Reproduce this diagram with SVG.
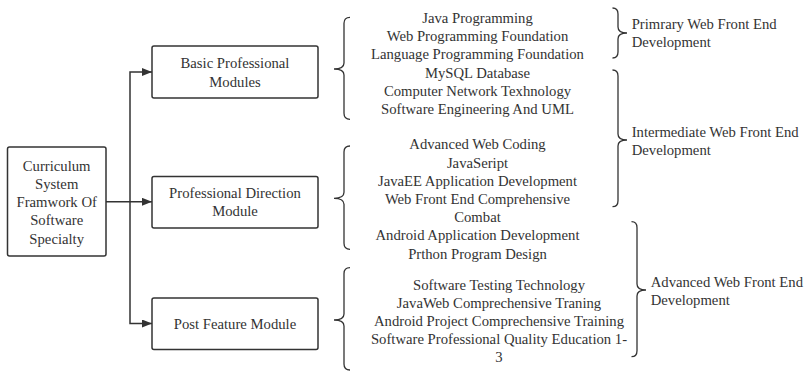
<svg xmlns="http://www.w3.org/2000/svg" width="807" height="371" viewBox="0 0 807 371">
<style>
.box{fill:#fff;stroke:#333;stroke-width:1.5}
.br{fill:none;stroke:#333;stroke-width:1.3}
.c{fill:none;stroke:#333;stroke-width:1.5}
text{font-family:'Liberation Serif','DejaVu Serif',serif;font-size:14.7px;fill:#333}
.t{text-anchor:middle}
.l{text-anchor:start}
</style>
<defs>
<marker id="arr" markerUnits="userSpaceOnUse" markerWidth="10" markerHeight="8" refX="10" refY="4" orient="auto">
<path d="M0,0 L10,4 L0,8 Z" fill="#333"/>
</marker>
</defs>
<rect width="807" height="371" fill="#fff"/>
<g id="connectors">
<path class="c" d="M106 201.8 H152" marker-end="url(#arr)"/>
<path class="c" d="M130 201.8 V72 H152" marker-end="url(#arr)"/>
<path class="c" d="M130 201.8 V323.5 H152" marker-end="url(#arr)"/>
</g>
<g id="root">
<rect class="box" x="7.5" y="147" width="98.5" height="109" rx="2"/>
<text class="t" x="56.7" y="170.7">Curriculum</text>
<text class="t" x="56.7" y="188.9">System</text>
<text class="t" x="56.7" y="207.1">Framwork Of</text>
<text class="t" x="56.7" y="225.3">Software</text>
<text class="t" x="56.7" y="243.5">Specialty</text>
</g>
<g id="basic">
<rect class="box" x="152" y="46" width="166" height="52" rx="2"/>
<text class="t" x="235" y="68.3">Basic Professional</text>
<text class="t" x="235" y="86.5">Modules</text>
</g>
<g id="direction">
<rect class="box" x="152" y="176.5" width="166" height="51.5" rx="2"/>
<text class="t" x="235" y="197.7">Professional Direction</text>
<text class="t" x="235" y="215.9">Module</text>
</g>
<g id="post">
<rect class="box" x="152" y="298" width="166" height="51.5" rx="2"/>
<text class="t" x="235" y="329">Post Feature Module</text>
</g>
<g id="brace-basic">
<path class="br" d="M350 17.3 Q344 17.3 344 23.3 L344 63 Q344 69 334 69 Q344 69 344 75 L344 113.3 Q344 119.3 350 119.3"/>
</g>
<g id="brace-direction">
<path class="br" d="M350 146 Q344 146 344 152 L344 192.3 Q344 198.3 334 198.3 Q344 198.3 344 204.3 L344 243.3 Q344 249.3 350 249.3"/>
</g>
<g id="brace-post">
<path class="br" d="M350 267.7 Q344 267.7 344 273.7 L344 314 Q344 320 334 320 Q344 320 344 326 L344 364 Q344 370 350 370"/>
</g>
<g id="courses-basic">
<text class="t" x="477.5" y="23">Java Programming</text>
<text class="t" x="477.5" y="41.2">Web Programming Foundation</text>
<text class="t" x="477.5" y="59.4">Language Programming Foundation</text>
<text class="t" x="477.5" y="77.6">MySQL Database</text>
<text class="t" x="477.5" y="95.8">Computer Network Texhnology</text>
<text class="t" x="477.5" y="114">Software Engineering And UML</text>
</g>
<g id="courses-direction">
<text class="t" x="477.5" y="149.3">Advanced Web Coding</text>
<text class="t" x="477.5" y="167.5">JavaSeript</text>
<text class="t" x="477.5" y="185.7">JavaEE Application Development</text>
<text class="t" x="477.5" y="203.9">Web Front End Comprehensive</text>
<text class="t" x="477.5" y="222.1">Combat</text>
<text class="t" x="477.5" y="240.3">Android Application Development</text>
<text class="t" x="477.5" y="258.5">Prthon Program Design</text>
</g>
<g id="courses-post">
<text class="t" x="499" y="289.5">Software Testing Technology</text>
<text class="t" x="499" y="307.7">JavaWeb Comprechensive Traning</text>
<text class="t" x="499" y="325.9">Android Project Comprechensive Training</text>
<text class="t" x="499" y="344.1">Software Professional Quality Education 1-</text>
<text class="t" x="499" y="362.3">3</text>
</g>
<g id="level-primary">
<path class="br" d="M612.5 8 Q618 8 618 14 L618 27 Q618 33 627 33 Q618 33 618 39 L618 52 Q618 58 612.5 58"/>
<text class="l" x="631.7" y="29">Primrary Web Front End</text>
<text class="l" x="631.7" y="47.4">Development</text>
</g>
<g id="level-intermediate">
<path class="br" d="M612.5 70 Q618 70 618 76 L618 134 Q618 140 627 140 Q618 140 618 146 L618 200.7 Q618 206.7 612.5 206.7"/>
<text class="l" x="631.7" y="136.5">Intermediate Web Front End</text>
<text class="l" x="631.7" y="154.7">Development</text>
</g>
<g id="level-advanced">
<path class="br" d="M631.5 221.7 Q637 221.7 637 227.7 L637 284 Q637 290 646 290 Q637 290 637 296 L637 350.7 Q637 356.7 631.5 356.7"/>
<text class="l" x="650.7" y="287">Advanced Web Front End</text>
<text class="l" x="650.7" y="305.2">Development</text>
</g>
</svg>
